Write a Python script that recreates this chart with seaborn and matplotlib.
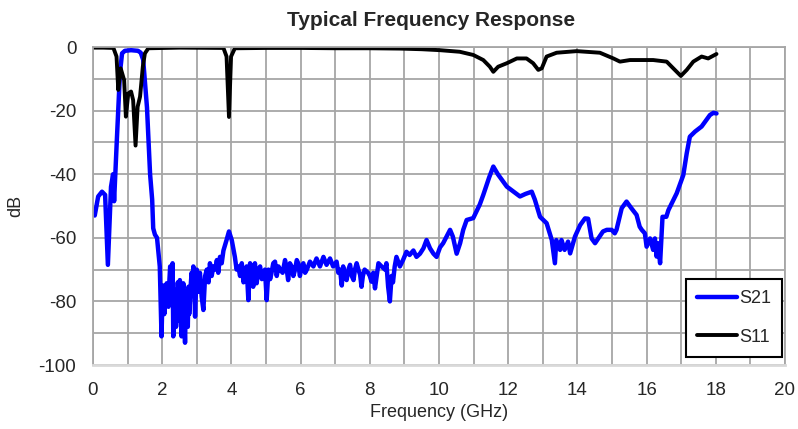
import numpy as np
import pandas as pd
import matplotlib
matplotlib.use("Agg")
import matplotlib.pyplot as plt
import seaborn as sns

# S21 trace (GHz, dB)
s21_freq = [0.05, 0.15, 0.26, 0.35, 0.43, 0.52, 0.58, 0.61, 0.69, 0.78, 0.84, 0.92, 1.1, 1.3, 1.38,
            1.45, 1.56, 1.65, 1.71, 1.74, 1.79, 1.85, 1.93, 1.98, 2.01, 2.03, 2.06, 2.08, 2.11, 2.13,
            2.16, 2.18, 2.21, 2.23, 2.25, 2.27, 2.30, 2.32, 2.35, 2.37, 2.40, 2.42, 2.45, 2.47, 2.49,
            2.51, 2.54, 2.56, 2.59, 2.61, 2.64, 2.66, 2.69, 2.71, 2.74, 2.76, 2.78, 2.80, 2.83, 2.85,
            2.88, 2.90, 2.93, 2.95, 2.98, 3.0, 3.05, 3.09, 3.12, 3.14, 3.19, 3.22, 3.24, 3.29, 3.34,
            3.38, 3.43, 3.48, 3.53, 3.58, 3.62, 3.67, 3.72, 3.77, 3.86, 3.93, 4.01, 4.10, 4.15, 4.20,
            4.25, 4.30, 4.35, 4.39, 4.44, 4.49, 4.54, 4.58, 4.63, 4.68, 4.73, 4.78, 4.83, 4.88, 4.92,
            4.97, 5.02, 5.07, 5.12, 5.16, 5.21, 5.26, 5.31, 5.36, 5.41, 5.48, 5.55, 5.60, 5.64, 5.69,
            5.74, 5.79, 5.84, 5.89, 5.93, 5.98, 6.03, 6.08, 6.13, 6.18, 6.27, 6.37, 6.46, 6.56, 6.66,
            6.75, 6.85, 6.94, 7.04, 7.09, 7.14, 7.19, 7.23, 7.28, 7.33, 7.38, 7.43, 7.48, 7.53, 7.57,
            7.62, 7.67, 7.72, 7.76, 7.80, 7.85, 7.95, 8.0, 8.05, 8.10, 8.15, 8.25, 8.34, 8.44, 8.48,
            8.53, 8.58, 8.63, 8.67, 8.72, 8.77, 8.87, 8.96, 9.06, 9.15, 9.26, 9.35, 9.45, 9.55, 9.64,
            9.74, 9.84, 9.93, 10.03, 10.12, 10.22, 10.32, 10.40, 10.51, 10.61, 10.70, 10.80, 10.99, 11.18, 11.28,
            11.45, 11.57, 11.70, 11.96, 12.34, 12.50, 12.68, 12.77, 12.92, 13.11, 13.26, 13.35, 13.39, 13.50, 13.54,
            13.63, 13.73, 13.79, 13.93, 14.08, 14.22, 14.31, 14.41, 14.51, 14.64, 14.74, 14.85, 14.99, 15.08, 15.13,
            15.28, 15.42, 15.56, 15.71, 15.80, 15.86, 15.95, 16.0, 16.10, 16.19, 16.24, 16.29, 16.33, 16.39, 16.46,
            16.57, 16.63, 16.87, 17.06, 17.16, 17.25, 17.40, 17.59, 17.83, 17.93, 18.02]
s21_db = [-53, -47, -45.5, -46.5, -68.5, -44, -40, -48.5, -29, -8, -2, -1.2, -1, -1.2, -1.8,
          -4, -19, -40, -48, -57, -59, -60, -69, -91, -78, -75, -84, -80.6, -76, -74.3,
          -79, -81.7, -73, -69, -72, -75.4, -68, -91, -80, -76.4, -88, -84.8, -74, -78.5, -86,
          -73.3, -82, -91, -79, -74.3, -85, -93, -77, -81.7, -88, -75.4, -84, -80.6, -74, -71,
          -78, -69, -76, -84.8, -75, -70, -77, -71, -75, -78.5, -82.7, -76, -72, -70, -74,
          -68, -72, -69, -70, -67, -71, -66, -68, -64, -60.7, -58, -60.7, -66, -70, -69,
          -72, -68, -74, -71, -69, -79.6, -68, -70, -75.4, -68, -74.3, -70, -69, -73, -72,
          -70, -79.6, -70, -73, -71, -68, -67.5, -72, -69, -70, -71, -67, -70, -73.3, -68,
          -69, -72, -70, -67, -68, -72, -69, -68, -71, -70, -67.5, -69, -66.5, -69, -66,
          -68.5, -66.5, -69, -67.5, -71, -70, -75, -69, -72, -73.3, -70, -68.5, -72, -73.3, -70,
          -68, -70, -71.6, -75.4, -72, -70, -71, -72, -73.8, -71, -75.9, -68, -69, -70, -68,
          -75.4, -80, -72, -74, -69, -66, -69, -67, -64.4, -65.4, -64, -66, -65, -63.3, -60.7,
          -63.3, -65, -66, -63, -61.7, -59.6, -57.5, -59.6, -65, -61.7, -57.5, -54.4, -53.8, -49.5, -46.5,
          -41, -37.6, -40, -43.9, -47, -46.2, -45.5, -48, -53.4, -55.4, -60.7, -68, -60.7, -63.8, -60.7,
          -63.8, -61.2, -64.9, -59.6, -56, -53.9, -54, -60.2, -61.7, -59.6, -58, -57.5, -57.5, -58.6, -57.5,
          -50.7, -48.6, -50.7, -52.8, -56.5, -57.5, -58.6, -62.8, -60.2, -63.8, -60.2, -65.9, -61.7, -68, -53.4,
          -53.4, -51.3, -46, -40.3, -33.4, -28.2, -26.6, -25, -21.4, -20.7, -20.9]

# S11 trace (GHz, dB)
s11_freq = [0.0, 0.3, 0.59, 0.68, 0.73, 0.8, 0.9, 0.95, 1.02, 1.1, 1.16, 1.23, 1.29, 1.36, 1.44,
            1.5, 1.6, 2.5, 3.77, 3.86, 3.93, 3.99, 4.1, 5.0, 6.0, 7.0, 8.0, 8.87, 9.5, 10.03,
            10.6, 10.99, 11.28, 11.47, 11.57, 11.71, 11.96, 12.25, 12.53, 12.72, 12.87, 12.97, 13.11, 13.4, 13.98,
            14.65, 15.04, 15.23, 15.52, 16.19, 16.58, 16.77, 16.99, 17.16, 17.35, 17.59, 17.78, 18.02]
s11_db = [-0.2, -0.2, -0.3, -3, -13.5, -6.7, -10.4, -21.9, -14.6, -14, -16.7, -31, -18.8, -15.6, -6.2,
          -2, -0.4, -0.2, -0.3, -3, -22, -3, -0.4, -0.3, -0.3, -0.4, -0.4, -0.5, -0.7, -1,
          -1.5, -2.5, -4.1, -6.2, -7.8, -6.2, -5.1, -3.6, -3.6, -5.1, -7.2, -6.7, -3, -1.8, -1.3,
          -1.8, -3.6, -4.6, -4.1, -4.1, -4.6, -6.7, -9.1, -7.2, -4.6, -3, -3.6, -2.2]

x_major = np.arange(0, 21, 2)
y_major = np.arange(-100, 1, 20)

sns.set_style("white")
plt.rcParams['font.family'] = ['Liberation Sans', 'DejaVu Sans']
plt.rcParams['axes.unicode_minus'] = False

fig = plt.figure(figsize=(7.98, 4.29), dpi=100)
ax = fig.add_axes([93 / 798, 1 - 365 / 429, (785 - 93) / 798, (365 - 47) / 429])

sns.lineplot(x=s21_freq, y=s21_db, color='#0000ff', linewidth=3.2, label='S21',
             sort=False, estimator=None, ax=ax)
sns.lineplot(x=s11_freq, y=s11_db, color='black', linewidth=2.8, label='S11',
             sort=False, estimator=None, ax=ax)

ax.set_xlim(0, 20)
ax.set_ylim(-100, 0)
ax.set_xticks(x_major)
ax.set_yticks(y_major)
ax.set_xticks(np.arange(0, 21, 1), minor=True)
ax.set_yticks(np.arange(-100, 1, 10), minor=True)
ax.grid(which='both', color='#a6a6a6', linewidth=1.3)
ax.set_axisbelow(True)
ax.tick_params(which='both', length=0, labelsize=13.5)
ax.tick_params(axis='x', pad=12)
ax.tick_params(axis='y', pad=12)

for side in ['left', 'top', 'right']:
    ax.spines[side].set_color('#a6a6a6')
    ax.spines[side].set_linewidth(1.3)
ax.spines['bottom'].set_color('#d9d9d9')
ax.spines['bottom'].set_linewidth(2)

ax.set_xlabel('Frequency (GHz)', fontsize=13, labelpad=4)
ax.set_ylabel('dB', fontsize=13, labelpad=10)
ax.set_title('Typical Frequency Response', fontsize=15, fontweight='bold', pad=15, x=0.488)

leg = ax.legend(loc='lower right', bbox_to_anchor=(1.0, 0.018), borderaxespad=0.15,
                fontsize=13, frameon=True, fancybox=False, edgecolor='black',
                handlelength=2.2, handletextpad=0.15, labelspacing=1.2, borderpad=0.6)
leg.get_frame().set_linewidth(1.5)
leg.get_frame().set_alpha(1)

fig.savefig('out.png', dpi=100)
